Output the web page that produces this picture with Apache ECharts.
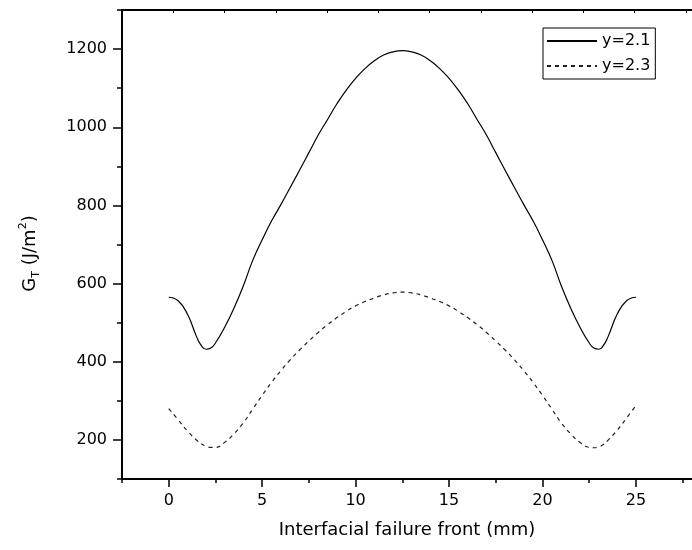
<!DOCTYPE html>
<html><head><meta charset="utf-8">
<script src="https://cdn.jsdelivr.net/npm/echarts@6/dist/echarts.min.js"></script>
<style>html,body{margin:0;padding:0;background:#fff}#c{width:692px;height:550px}</style>
</head><body><div id="c"></div>
<script>
const xValues = [0,0.5,1,1.5,1.75,2,2.25,2.5,3,3.5,4,4.5,5,5.5,6,6.5,7,7.5,8,8.5,9,9.5,10,10.5,11,11.5,12,12.5,13,13.5,14,14.5,15,15.5,16,16.5,17,17.5,18,18.5,19,19.5,20,20.5,21,21.5,22,22.5,22.75,23,23.25,23.5,24,24.5,25];
const gT_y21 = [565,556,522,463,441,432,435,448,489,538,595,660,712,760,802,846,890,935,980,1020,1060,1095,1125,1150,1170,1185,1193,1196,1193,1185,1170,1150,1125,1095,1060,1020,980,935,890,846,802,760,712,660,595,538,489,448,435,432,441,463,522,556,565];
const gT_y23 = [280,252,223,199,190,184,181,181,194,216,244,279,314,347,377,405,430,453,475,495,513,529,543,554,563,571,576,578,576,571,563,554,543,529,513,495,475,453,430,405,377,347,314,279,244,216,194,181,180,182,188,199,225,256,288];
const seriesNames = ['y=2.1','y=2.3'];
const xMajorTicks = [0,5,10,15,20,25];
const xMinorTicks = [-2.5,2.5,7.5,12.5,17.5,22.5,27.5];
const yMajorTicks = [200,400,600,800,1000,1200];
const yMinorTicks = [100,300,500,700,900,1100,1300];

const FONT = 'DejaVu Sans';
const chart = echarts.init(document.getElementById('c'), null, {renderer:'canvas'});
const pairs = arr => xValues.map((x,i)=>[x,arr[i]]);
const plain = v => String(v);
chart.setOption({
  animation:false,
  backgroundColor:'#fff',
  textStyle:{fontFamily:FONT,color:'#000'},
  grid:{left:122,right:-15,top:10,bottom:71},
  legend:{
    orient:'vertical', left:543, top:28,
    borderColor:'#000', borderWidth:1, padding:[5,5,5,3],
    itemWidth:50, itemHeight:18, itemGap:9,
    itemStyle:{opacity:0},
    textStyle:{fontFamily:FONT,fontSize:16,color:'#000'},
    data:seriesNames
  },
  xAxis:[
    {type:'value',min:-2.5,max:28,position:'bottom',
     axisLine:{show:true,onZero:false,lineStyle:{color:'#000',width:2}},
     axisTick:{show:true,customValues:xMajorTicks,length:8,lineStyle:{color:'#000',width:1.5}},
     axisLabel:{customValues:xMajorTicks,formatter:plain,fontFamily:FONT,fontSize:16,color:'#000',margin:14},
     splitLine:{show:false},
     name:'Interfacial failure front (mm)',nameLocation:'middle',nameGap:42,
     nameTextStyle:{fontFamily:FONT,fontSize:18,color:'#000'}},
    {type:'value',min:-2.5,max:28,position:'bottom',
     axisLine:{show:false,onZero:false},
     axisTick:{show:true,customValues:xMinorTicks,length:4,lineStyle:{color:'#000',width:1.5}},
     axisLabel:{show:false},splitLine:{show:false}},
    {type:'value',min:0,max:11.12,interval:1,position:'top',
     axisLine:{show:true,onZero:false,lineStyle:{color:'#000',width:2}},
     axisTick:{show:true,inside:true,length:3,lineStyle:{color:'#000',width:1}},
     axisLabel:{show:false},splitLine:{show:false}}
  ],
  yAxis:[
    {type:'value',min:100,max:1300,position:'left',
     axisLine:{show:true,onZero:false,lineStyle:{color:'#000',width:2}},
     axisTick:{show:true,customValues:yMajorTicks,length:9,lineStyle:{color:'#000',width:1.5}},
     axisLabel:{customValues:yMajorTicks,formatter:plain,fontFamily:FONT,fontSize:16,color:'#000',margin:15},
     splitLine:{show:false},
     name:'{a|G}{sub|T}{a| (J/m}{sup|2}{a|)}',nameLocation:'middle',nameRotate:90,nameGap:80,
     nameTextStyle:{fontFamily:FONT,fontSize:18,color:'#000',padding:[0,18,0,0],
       rich:{
         a:{fontFamily:FONT,fontSize:18,color:'#000',lineHeight:24},
         sub:{fontFamily:FONT,fontSize:11,color:'#000',lineHeight:13,verticalAlign:'bottom'},
         sup:{fontFamily:FONT,fontSize:11,color:'#000',lineHeight:13,verticalAlign:'top'}
       }}},
    {type:'value',min:100,max:1300,position:'left',
     axisLine:{show:false,onZero:false},
     axisTick:{show:true,customValues:yMinorTicks,length:5,lineStyle:{color:'#000',width:1.5}},
     axisLabel:{show:false},splitLine:{show:false}}
  ],
  series:[
    {name:seriesNames[0],type:'line',xAxisIndex:0,yAxisIndex:0,data:pairs(gT_y21),smooth:true,symbol:'none',
     itemStyle:{color:'#000'},
     lineStyle:{color:'#000',width:1.2,type:'solid'}},
    {name:seriesNames[1],type:'line',xAxisIndex:0,yAxisIndex:0,data:pairs(gT_y23),smooth:true,symbol:'none',
     itemStyle:{color:'#222'},
     lineStyle:{color:'#222',width:1.2,type:[4,4]}}
  ]
});
</script>
</body></html>
